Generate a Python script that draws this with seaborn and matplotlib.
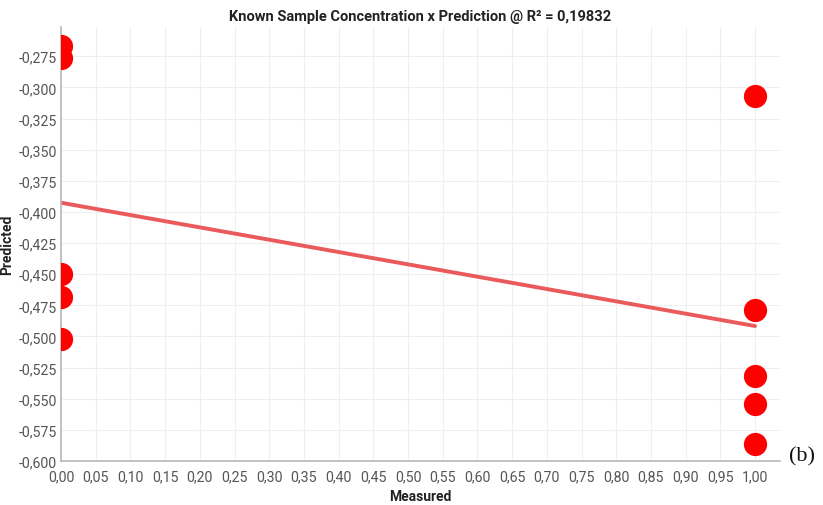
import numpy as np
import pandas as pd
import seaborn as sns
import matplotlib
matplotlib.use("Agg")
import matplotlib.pyplot as plt
from matplotlib.ticker import FuncFormatter, MultipleLocator

# Measured class (0 / 1) and predicted concentration for each sample
measured = [0, 0, 0, 0, 0, 1, 1, 1, 1, 1]
predicted = [-0.267, -0.276, -0.450, -0.468, -0.502,
             -0.307, -0.479, -0.532, -0.554, -0.586]
r_squared_label = "0,19832"

df = pd.DataFrame({"Measured": measured, "Predicted": predicted})

sns.set_theme(style="whitegrid")
plt.rcParams["font.family"] = ["Roboto", "DejaVu Sans"]

fig = plt.figure(figsize=(8.23, 5.06), dpi=100)
ax = fig.add_axes([61 / 823, 44 / 506, (780 - 61) / 823, (462 - 28) / 506])

# fitted regression line
sns.regplot(data=df, x="Measured", y="Predicted", ax=ax, ci=None, scatter=False,
            line_kws=dict(color="#ea5a5a", lw=2.8, zorder=2))
# sample points, cut off where they sit on the axis edge
sns.scatterplot(data=df, x="Measured", y="Predicted", ax=ax, s=280,
                color="#ff0000", linewidth=0, zorder=3, clip_on=True, legend=False)

ax.set_xlim(0, 1.036)
ax.set_ylim(-0.600, -0.2515)
ax.xaxis.set_major_locator(MultipleLocator(0.05))
ax.yaxis.set_major_locator(MultipleLocator(0.025))

comma = lambda fmt: FuncFormatter(lambda v, p: (fmt % v).replace(".", ","))
ax.xaxis.set_major_formatter(comma("%.2f"))
ax.yaxis.set_major_formatter(comma("%.3f"))

ax.grid(True, color="#efefef", lw=0.8)
for side in ("top", "right"):
    ax.spines[side].set_visible(False)
for side in ("left", "bottom"):
    ax.spines[side].set_color("#b8b8b8")
    ax.spines[side].set_linewidth(1.2)

ax.tick_params(axis="both", labelsize=10.2, labelcolor="#555555", length=0)
ax.tick_params(axis="x", pad=6)
ax.tick_params(axis="y", pad=3)

ax.set_xlabel("Measured", fontsize=10, fontweight="bold", color="#222222", labelpad=4)
ax.set_ylabel("Predicted", fontsize=10, fontweight="bold", color="#222222", labelpad=3)
ax.set_title(f"Known Sample Concentration x Prediction @ R² = {r_squared_label}",
             fontsize=10.5, fontweight="bold", color="#222222", pad=5)

fig.text(802 / 823, 1 - 457 / 506, "(b)", family="Liberation Serif", fontsize=16,
         ha="center", va="center", color="#111111")

fig.savefig("out.png", dpi=100)
